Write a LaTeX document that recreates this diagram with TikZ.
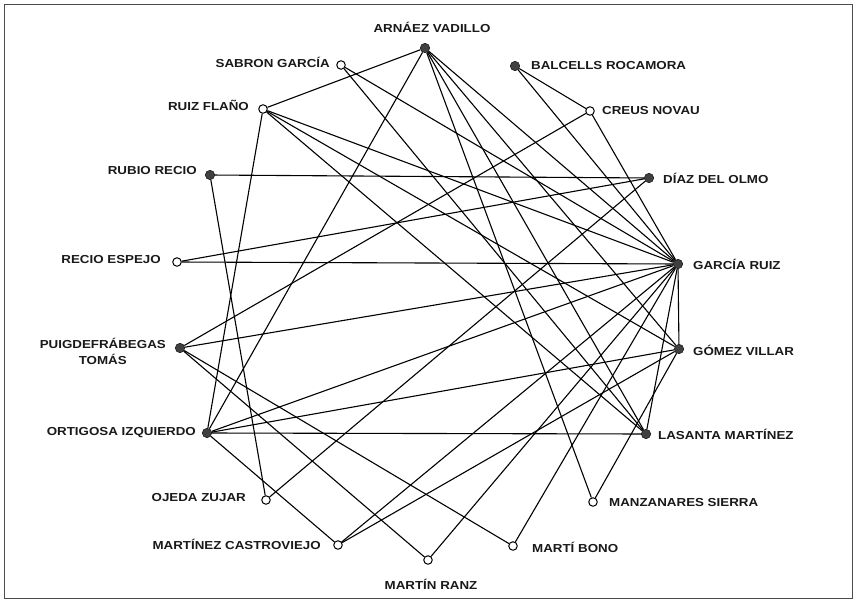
\documentclass[tikz,border=0pt]{standalone}
\usepackage{fontspec}
\setmainfont{Liberation Sans}[FakeStretch=1.15]
\usetikzlibrary{positioning,calc}

\begin{document}
\begin{tikzpicture}[x=1pt,y=-1pt,font=\bfseries\fontsize{11.6}{16}\selectfont]
\tikzset{
  full/.style={circle, draw=black, fill=black!75, minimum size=9.5pt, inner sep=0pt},
  hollow/.style={circle, draw=black, fill=white, minimum size=8.5pt, inner sep=0pt, line width=1pt},
  edge/.style={draw=black, line width=1.1pt},
  lbl/.style={inner sep=0pt, text=black!90}
}
\useasboundingbox (0,0) rectangle (857,602);
\draw[line width=0.8pt, black!70] (4,4) rectangle (852,598);
% members
\node[full]   (arnaez)   at (425,48)  {};
\node[hollow] (sabron)   at (341,65)  {};
\node[full]   (balcells) at (515,66)  {};
\node[hollow] (ruizf)    at (263,109) {};
\node[hollow] (creus)    at (590,111) {};
\node[full]   (rubio)    at (210,175) {};
\node[full]   (diaz)     at (649,178) {};
\node[hollow] (recio)    at (177,262) {};
\node[full]   (garcia)   at (678,264) {};
\node[full]   (puig)     at (180,348) {};
\node[full]   (gomez)    at (679,349) {};
\node[full]   (ortigosa) at (207,433) {};
\node[full]   (lasanta)  at (646,434) {};
\node[hollow] (ojeda)    at (266,500) {};
\node[hollow] (manz)     at (593,502) {};
\node[hollow] (castro)   at (338,545) {};
\node[hollow] (bono)     at (513,546) {};
\node[hollow] (ranz)     at (428,560) {};
% names
\node[lbl] (larnaez) at (432,27) {ARNÁEZ VADILLO};
\node[lbl, anchor=east] (lsabron) at ($(sabron)+(-11,-3)$) {SABRON GARCÍA};
\node[lbl, anchor=west] (lbalcells) at ($(balcells)+(16,0)$) {BALCELLS ROCAMORA};
\node[lbl, anchor=east] (lruizf) at ($(ruizf)+(-14,-4)$) {RUIZ FLAÑO};
\node[lbl, anchor=west] (lcreus) at ($(creus)+(12,0)$) {CREUS NOVAU};
\node[lbl, anchor=east] (lrubio) at ($(rubio)+(-13,-4)$) {RUBIO RECIO};
\node[lbl, anchor=west] (ldiaz) at ($(diaz)+(14,0)$) {DÍAZ DEL OLMO};
\node[lbl, anchor=east] (lrecio) at ($(recio)+(-16,-2)$) {RECIO ESPEJO};
\node[lbl, anchor=west] (lgarcia) at ($(garcia)+(15,0)$) {GARCÍA RUIZ};
\node[lbl, anchor=east, align=center] (lpuig) at ($(puig)+(-14,3)$) {PUIGDEFRÁBEGAS\\TOMÁS};
\node[lbl, anchor=west] (lgomez) at ($(gomez)+(14,1)$) {GÓMEZ VILLAR};
\node[lbl, anchor=east] (lortigosa) at ($(ortigosa)+(-11,0)$) {ORTIGOSA IZQUIERDO};
\node[lbl, anchor=west] (llasanta) at ($(lasanta)+(12,0)$) {LASANTA MARTÍNEZ};
\node[lbl, anchor=east] (lojeda) at ($(ojeda)+(-20,-2)$) {OJEDA ZUJAR};
\node[lbl, anchor=west] (lmanz) at ($(manz)+(16,1)$) {MANZANARES SIERRA};
\node[lbl, anchor=east] (lcastro) at ($(castro)+(-17,-1)$) {MARTÍNEZ CASTROVIEJO};
\node[lbl, anchor=west] (lbono) at ($(bono)+(19,1)$) {MARTÍ BONO};
\node[lbl] (lranz) at (431,584) {MARTÍN RANZ};
% ties
\foreach \t in {ruizf,ortigosa,manz,lasanta,gomez,garcia}
  \draw[edge] (arnaez)--(\t);
\foreach \t in {sabron,balcells,ruizf,creus,recio,puig,ortigosa,gomez,lasanta,castro,ranz,bono}
  \draw[edge] (garcia)--(\t);
\draw[edge] (sabron)--(lasanta);
\draw[edge] (balcells)--(creus);
\draw[edge] (ruizf)--(ortigosa);
\draw[edge] (ruizf)--(gomez);
\draw[edge] (ruizf)--(lasanta);
\draw[edge] (creus)--(puig);
\draw[edge] (rubio)--(diaz);
\draw[edge] (rubio)--(ojeda);
\draw[edge] (recio)--(diaz);
\draw[edge] (diaz)--(ojeda);
\draw[edge] (puig)--(ranz);
\draw[edge] (puig)--(bono);
\draw[edge] (ortigosa)--(gomez);
\draw[edge] (ortigosa)--(lasanta);
\draw[edge] (ortigosa)--(castro);
\draw[edge] (gomez)--(castro);
\draw[edge] (gomez)--(manz);
\end{tikzpicture}
\end{document}
